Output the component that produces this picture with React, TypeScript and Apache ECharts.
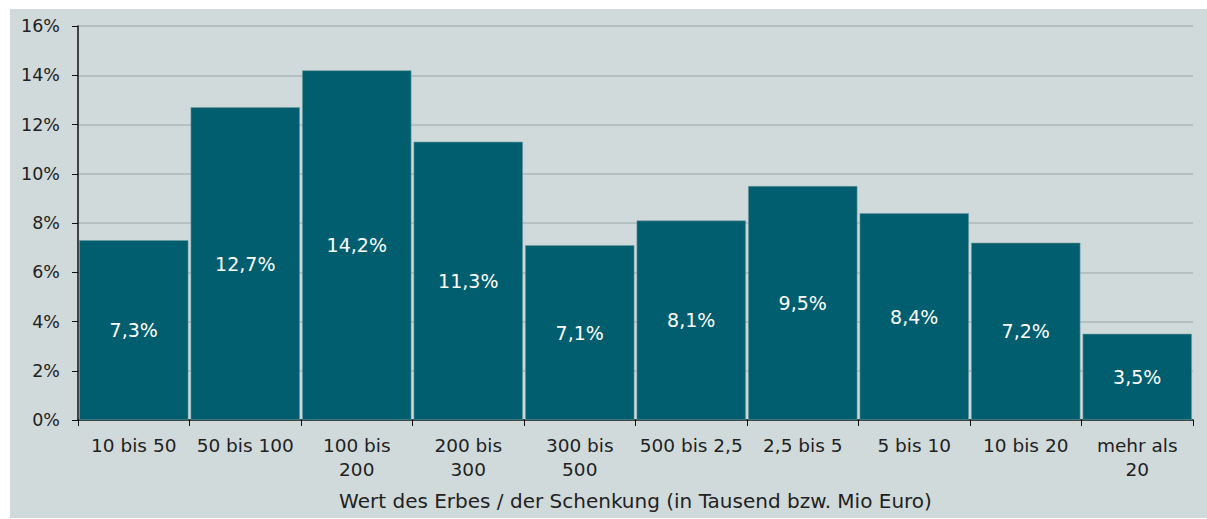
import React, { useEffect, useRef } from "react";
import * as echarts from "echarts";

const categories = [
  "10 bis 50",
  "50 bis 100",
  "100 bis\n200",
  "200 bis\n300",
  "300 bis\n500",
  "500 bis 2,5",
  "2,5 bis 5",
  "5 bis 10",
  "10 bis 20",
  "mehr als\n20",
];
const values = [7.3, 12.7, 14.2, 11.3, 7.1, 8.1, 9.5, 8.4, 7.2, 3.5];
const axisTitle = "Wert des Erbes / der Schenkung (in Tausend bzw. Mio Euro)";

const FONT = "'DejaVu Sans', sans-serif";

export default function App() {
  const ref = useRef<HTMLDivElement>(null);
  useEffect(() => {
    document.body.style.margin = "0";
    const chart = echarts.init(ref.current!, null, { renderer: "svg" });
    chart.setOption({
      animation: false,
      backgroundColor: "#d0dadb",
      grid: { left: 68, right: 14, top: 17, bottom: 98 },
      xAxis: {
        type: "category",
        data: categories,
        name: axisTitle,
        nameLocation: "middle",
        nameGap: 71,
        nameTextStyle: { fontFamily: FONT, fontSize: 20, color: "#222" },
        axisLine: { lineStyle: { color: "#111", width: 1.5 } },
        axisTick: { show: true, length: 6, lineStyle: { color: "#111" } },
        axisLabel: {
          fontFamily: FONT,
          fontSize: 18.5,
          color: "#222",
          margin: 13,
          lineHeight: 24,
          interval: 0,
        },
      },
      yAxis: {
        type: "value",
        min: 0,
        max: 16,
        interval: 2,
        axisLine: { show: true, lineStyle: { color: "#111", width: 1.5 } },
        axisTick: { show: true, length: 6, lineStyle: { color: "#111" } },
        axisLabel: {
          fontFamily: FONT,
          fontSize: 17.5,
          color: "#222",
          margin: 18,
          formatter: (v: number) => `${v}%`,
        },
        splitLine: { lineStyle: { color: "#aeb7b8", width: 1.5 } },
      },
      series: [
        {
          type: "bar",
          data: values,
          barCategoryGap: "2%",
          itemStyle: { color: "#005e6e", borderColor: "#6e9aa2", borderWidth: 0.6 },
          label: {
            show: true,
            position: "inside",
            fontFamily: FONT,
            fontSize: 19,
            color: "#ffffff",
            formatter: (p: any) => `${p.value.toFixed(1).replace(".", ",")}%`,
          },
        },
      ],
    });
    return () => chart.dispose();
  }, []);
  return (
    <div style={{ paddingLeft: 10, paddingTop: 9, background: "#fff", width: 1207, height: 519, boxSizing: "border-box" }}>
      <div ref={ref} style={{ width: 1197, height: 509 }} />
    </div>
  );
}
